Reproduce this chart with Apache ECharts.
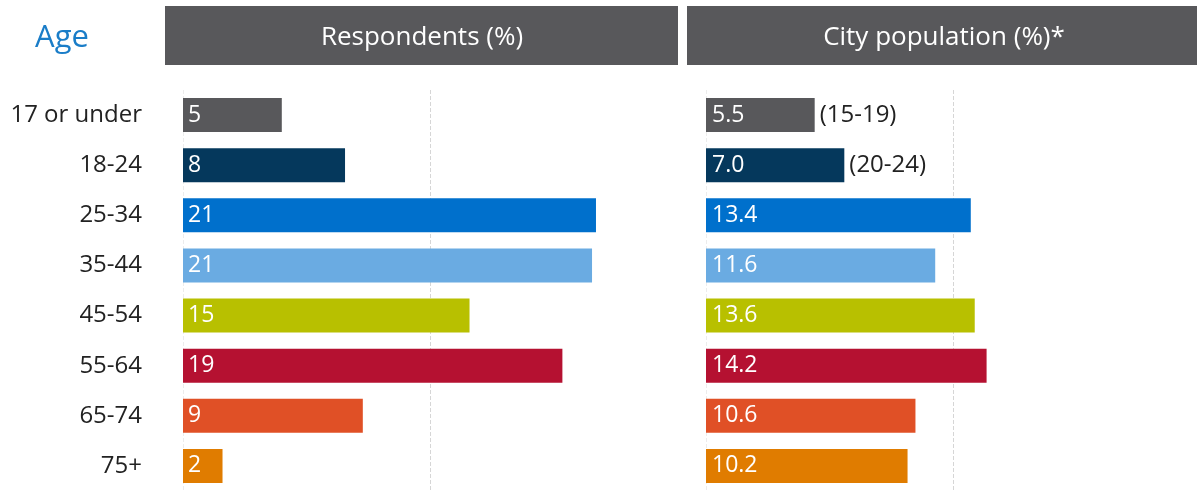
<!DOCTYPE html>
<html>
<head>
<meta charset="utf-8">
<script src="https://cdn.jsdelivr.net/npm/echarts@6/dist/echarts.min.js"></script>
<style>
  html, body { margin: 0; padding: 0; background: #fff; }
  #main { width: 1204px; height: 493px; }
</style>
</head>
<body>
<div id="main"></div>
<script>
// 年龄段
var ageGroups = ["17 or under", "18-24", "25-34", "35-44", "45-54", "55-64", "65-74", "75+"];
// 受访者 (%)
var respondents = [5, 8.2, 20.9, 20.7, 14.5, 19.2, 9.1, 2];
// 城市人口 (%)
var cityPopulation = [5.5, 7.0, 13.4, 11.6, 13.6, 14.2, 10.6, 10.2];
var cityRanges = ["(15-19)", "(20-24)", "", "", "", "", "", ""];
var barColors = ["#58585b", "#05385c", "#0070cc", "#6aabe2", "#b8c000", "#b51131", "#e05026", "#e07c00"];

var font = "'Open Sans', 'DejaVu Sans', sans-serif";
var myChart = echarts.init(document.getElementById("main"));

function valueAxis(idx) {
  return {
    type: "value",
    gridIndex: idx,
    min: 0,
    max: 25,
    interval: 12.5,
    axisLabel: { show: false },
    axisLine: { show: false },
    axisTick: { show: false },
    splitLine: {
      show: true,
      lineStyle: { color: ["#ececec", "#d6d6d6", "#ffffff"], type: "dashed", width: 1 }
    }
  };
}

function catAxis(idx, showLabel) {
  return {
    type: "category",
    gridIndex: idx,
    data: ageGroups,
    inverse: true,
    axisLine: { show: false },
    axisTick: { show: false },
    axisLabel: {
      show: showLabel,
      color: "#222",
      fontFamily: font,
      fontSize: 24,
      margin: 41
    }
  };
}

function coloured(values) {
  return values.map(function (v, i) {
    return { value: v, itemStyle: { color: barColors[i] } };
  });
}

var option = {
  animation: false,
  grid: [
    { left: 183, top: 90, width: 494, height: 401 },
    { left: 706, top: 90, width: 494, height: 401 }
  ],
  xAxis: [valueAxis(0), valueAxis(1)],
  yAxis: [catAxis(0, true), catAxis(1, false)],
  graphic: [
    { type: "rect", shape: { x: 165, y: 6, width: 513, height: 59 }, style: { fill: "#58585b" } },
    { type: "rect", shape: { x: 687, y: 6, width: 510, height: 59 }, style: { fill: "#58585b" } },
    {
      type: "text", x: 422, y: 38,
      style: { text: "Respondents (%)", fill: "#fff", font: "26px " + font, align: "center", verticalAlign: "middle" }
    },
    {
      type: "text", x: 944, y: 38,
      style: { text: "City population (%)*", fill: "#fff", font: "26px " + font, align: "center", verticalAlign: "middle" }
    },
    {
      type: "text", x: 62, y: 38,
      style: { text: "Age", fill: "#1a7dc8", font: "31px " + font, align: "center", verticalAlign: "middle" }
    }
  ],
  series: [
    {
      name: "Respondents",
      type: "bar",
      xAxisIndex: 0,
      yAxisIndex: 0,
      barWidth: 34,
      data: coloured(respondents),
      label: {
        show: true,
        position: "insideLeft",
        distance: 5,
        color: "#fff",
        fontFamily: font,
        fontSize: 23,
        formatter: function (p) { return Math.round(p.value); }
      }
    },
    {
      name: "City population",
      type: "bar",
      xAxisIndex: 1,
      yAxisIndex: 1,
      barWidth: 34,
      data: coloured(cityPopulation),
      label: {
        show: true,
        position: "insideLeft",
        distance: 6,
        color: "#fff",
        fontFamily: font,
        fontSize: 23,
        formatter: function (p) { return p.value.toFixed(1); }
      }
    },
    {
      // 年龄段备注
      name: "Ranges",
      type: "bar",
      xAxisIndex: 1,
      yAxisIndex: 1,
      barWidth: 34,
      barGap: "-100%",
      silent: true,
      itemStyle: { color: "transparent" },
      data: cityPopulation,
      label: {
        show: true,
        position: "right",
        distance: 5,
        color: "#222",
        fontFamily: font,
        fontSize: 24,
        formatter: function (p) { return cityRanges[p.dataIndex]; }
      }
    }
  ]
};

myChart.setOption(option);
</script>
</body>
</html>
